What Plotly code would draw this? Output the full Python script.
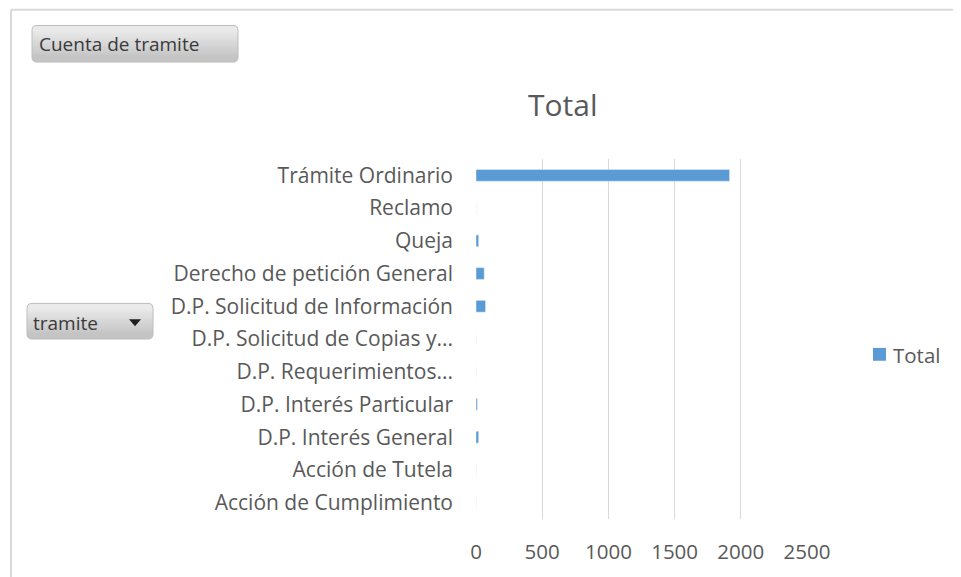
import plotly.graph_objects as go

categories = ["Trámite Ordinario", "Reclamo", "Queja", "Derecho de petición General",
              "D.P. Solicitud de Información", "D.P. Solicitud de Copias y...",
              "D.P. Requerimientos...", "D.P. Interés Particular", "D.P. Interés General",
              "Acción de Tutela", "Acción de Cumplimiento"]
values = [1915, 0, 20, 62, 72, 0, 0, 10, 20, 0, 0]
x_ticks = [0, 500, 1000, 1500, 2000, 2500]
series_name = "Total"

OFF = 8  # default page body margin
W, H = 961 - OFF, 577 - OFF
L, R, T, B = 476, 807, 159, 523  # plot area in screenshot pixels

fig = go.Figure()
fig.add_trace(go.Bar(
    y=categories, x=values, orientation="h", name=series_name,
    marker=dict(color="#5b9bd5"), showlegend=False,
))

def px(x):
    return (x - L) / (R - L)

def py(y):
    return (B - y) / (B - T)

grey = "#595959"
fig.update_layout(
    width=W, height=H,
    margin=dict(l=L - OFF, r=W - (R - OFF), t=T - OFF, b=H - (B - OFF), pad=0),
    paper_bgcolor="white", plot_bgcolor="white",
    font=dict(family="Open Sans, Calibri, sans-serif", color=grey, size=16),
    bargap=0.64,
    showlegend=False,
    xaxis=dict(range=[0, 2500], tickvals=x_ticks, showgrid=True, gridcolor="#d9d9d9",
               gridwidth=1, zeroline=False, showline=False, ticks="",
               ticklabelstandoff=18, tickfont=dict(size=20.5, color=grey), fixedrange=True),
    yaxis=dict(categoryorder="array", categoryarray=categories, autorange="reversed",
               showgrid=False, showline=False, ticks="", ticklabelstandoff=22,
               tickfont=dict(size=21, color=grey), fixedrange=True),
)

shapes = []
# outer chart border (left and top visible)
shapes.append(dict(type="line", xref="paper", yref="paper",
                   x0=px(11), x1=px(11), y0=py(8), y1=py(577 + 20),
                   line=dict(color="#d9d9d9", width=2), layer="below"))
shapes.append(dict(type="line", xref="paper", yref="paper",
                   x0=px(11), x1=px(961 + 20), y0=py(8), y1=py(8),
                   line=dict(color="#d9d9d9", width=2), layer="below"))

def rounded(x0, y0, x1, y1, r):
    return (f"M {px(x0 + r)} {py(y0)} L {px(x1 - r)} {py(y0)} "
            f"Q {px(x1)} {py(y0)} {px(x1)} {py(y0 + r)} L {px(x1)} {py(y1 - r)} "
            f"Q {px(x1)} {py(y1)} {px(x1 - r)} {py(y1)} L {px(x0 + r)} {py(y1)} "
            f"Q {px(x0)} {py(y1)} {px(x0)} {py(y1 - r)} L {px(x0)} {py(y0 + r)} "
            f"Q {px(x0)} {py(y0)} {px(x0 + r)} {py(y0)} Z")

def lerp_col(t):
    top, bot = (234, 234, 234), (196, 196, 196)
    c = [round(a + (b - a) * t) for a, b in zip(top, bot)]
    return f"rgb({c[0]},{c[1]},{c[2]})"

def button(x0, y0, x1, y1):
    r = 5
    shapes.append(dict(type="path", xref="paper", yref="paper", path=rounded(x0, y0, x1, y1, r),
                       fillcolor=lerp_col(1.0), line=dict(width=0), layer="above"))
    shapes.append(dict(type="path", xref="paper", yref="paper",
                       path=rounded(x0, y0, x1, y0 + 2 * r + 2, r),
                       fillcolor=lerp_col(0.0), line=dict(width=0), layer="above"))
    n = 14
    h = (y1 - r) - (y0 + r)
    for i in range(n):
        ya = y0 + r + h * i / n
        yb = y0 + r + h * (i + 1) / n + 0.6
        shapes.append(dict(type="rect", xref="paper", yref="paper",
                           x0=px(x0), x1=px(x1), y0=py(yb), y1=py(ya),
                           fillcolor=lerp_col((i + 0.5) / n), line=dict(width=0), layer="above"))
    shapes.append(dict(type="path", xref="paper", yref="paper", path=rounded(x0, y0, x1, y1, r),
                       fillcolor="rgba(0,0,0,0)", line=dict(color="#bdbdbd", width=1), layer="above"))

button(32, 24, 238, 61)
button(27, 305, 153, 341)
# dropdown triangle
shapes.append(dict(type="path", xref="paper", yref="paper",
                   path=f"M {px(129)} {py(321)} L {px(141)} {py(321)} L {px(135)} {py(328)} Z",
                   fillcolor="#1f1f1f", line=dict(width=0), layer="above"))
# legend marker
shapes.append(dict(type="rect", xref="paper", yref="paper",
                   x0=px(873), x1=px(886), y0=py(363), y1=py(350),
                   fillcolor="#5b9bd5", line=dict(width=0)))
fig.update_layout(shapes=shapes)

annotations = [
    dict(text="Cuenta de tramite", x=px(37), y=py(43), xanchor="left", yanchor="middle",
         showarrow=False, xref="paper", yref="paper", font=dict(size=19, color="#3a3a3a")),
    dict(text="tramite", x=px(31), y=py(325), xanchor="left", yanchor="middle",
         showarrow=False, xref="paper", yref="paper", font=dict(size=19, color="#3a3a3a")),
    dict(text="Total", x=px(563), y=py(104), xanchor="center", yanchor="middle",
         showarrow=False, xref="paper", yref="paper", font=dict(size=30, color=grey)),
    dict(text=series_name, x=px(891), y=py(357), xanchor="left", yanchor="middle",
         showarrow=False, xref="paper", yref="paper", font=dict(size=20.5, color=grey)),
]
fig.update_layout(annotations=annotations)

fig.write_html("out.html", config={"displayModeBar": False})
